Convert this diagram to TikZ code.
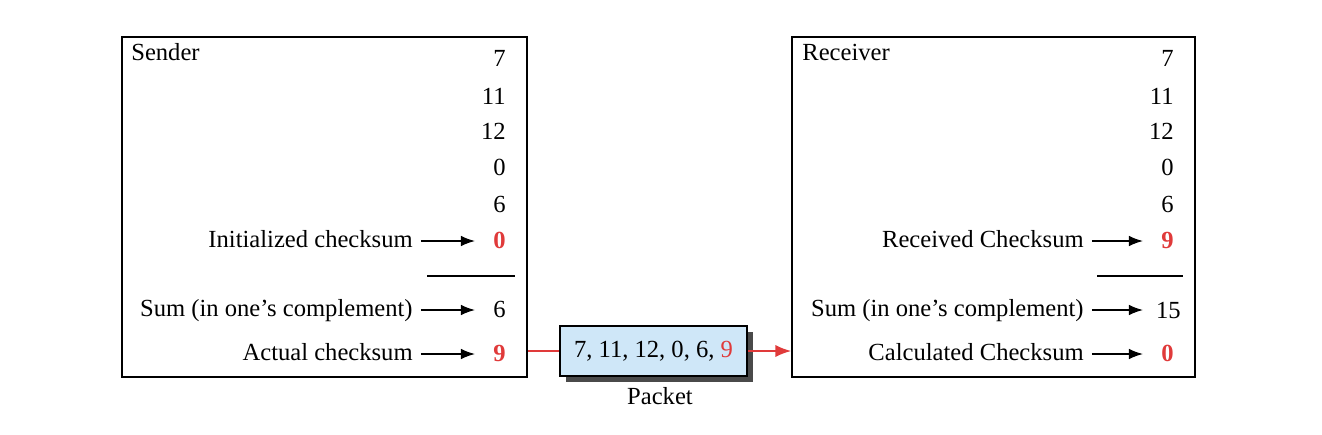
\documentclass[tikz,border=0pt]{standalone}
\usepackage{fontspec}
\setmainfont{Liberation Serif}
\usetikzlibrary{arrows.meta,shadows}
\definecolor{ckred}{HTML}{E03A3A}
\definecolor{pktblue}{HTML}{CFE7F8}
\definecolor{shadowgray}{HTML}{4A4A4A}

\begin{document}
\begin{tikzpicture}[x=0.02cm,y=-0.02cm,
    txt/.style={inner sep=0pt,font=\fontsize{14}{16}\selectfont,text height=10.5pt,text depth=3pt},
    lbl/.style={txt,anchor=east},
    num/.style={txt,anchor=east},
    hot/.style={num,text=ckred,font=\fontsize{14}{16}\selectfont\bfseries},
    tip/.style={-{Latex[length=8pt,width=6pt]},line width=0.8pt,shorten <=4.5pt},
    frame/.style={draw,line width=1pt,inner sep=0pt}]
  \useasboundingbox (0,0) rectangle (1322,434);

  \node[frame,minimum width=8.1cm,minimum height=6.8cm] (sbox) at (324.5,207) {};
  \node[frame,minimum width=8.06cm,minimum height=6.8cm] (rbox) at (993.5,207) {};
  \node[txt,anchor=west] (sname) at (131,54) {Sender};
  \node[txt,anchor=west] (rname) at (802,54) {Receiver};

  \foreach \v/\y [count=\i] in {7/60,11/98,12/133,0/169,6/206} {
    \node[num] (s\i) at (506,\y) {\v};
    \node[num] (r\i) at (1174,\y) {\v};
  }
  \coordinate (stip) at (475,0);
  \coordinate (rtip) at (1143,0);

  \node[lbl] (sinit) at (413,241) {Initialized checksum};
  \node[hot] (s6) at (506,242) {0};
  \draw[tip] (sinit.east) -- (sinit.east -| stip);
  \draw[line width=1pt] (427,276) -- (515,276);
  \node[lbl] (ssum) at (413,310) {Sum (in one’s complement)};
  \node[num] (s7) at (506,311) {6};
  \draw[tip] (ssum.east) -- (ssum.east -| stip);
  \node[lbl] (sact) at (413,354) {Actual checksum};
  \node[hot] (s8) at (506,355) {9};
  \draw[tip] (sact.east) -- (sact.east -| stip);

  \node[lbl] (rrecv) at (1084,241) {Received Checksum};
  \node[hot] (r6) at (1174,242) {9};
  \draw[tip] (rrecv.east) -- (rrecv.east -| rtip);
  \draw[line width=1pt] (1097,276) -- (1183,276);
  \node[lbl] (rsum) at (1084,310) {Sum (in one’s complement)};
  \node[num] (r7) at (1181,312) {15};
  \draw[tip] (rsum.east) -- (rsum.east -| rtip);
  \node[lbl] (rcalc) at (1084,354) {Calculated Checksum};
  \node[hot] (r8) at (1174,355) {0};
  \draw[tip] (rcalc.east) -- (rcalc.east -| rtip);

  \node[frame,fill=pktblue,minimum width=3.74cm,minimum height=1cm,
    drop shadow={shadow xshift=0.12cm,shadow yshift=-0.12cm,fill=shadowgray,opacity=1}]
    (pkt) at (653.5,351) {\fontsize{14}{16}\selectfont 7, 11, 12, 0, 6, \textcolor{ckred}{9}};
  \node[txt] (pktname) at (660,398) {Packet};
  \draw[ckred,line width=1pt] (pkt.west -| sbox.east) -- (pkt.west);
  \draw[ckred,line width=1pt,-{Latex[length=9pt,width=7pt]}] (pkt.east) -- (pkt.east -| rbox.west);
\end{tikzpicture}
\end{document}
